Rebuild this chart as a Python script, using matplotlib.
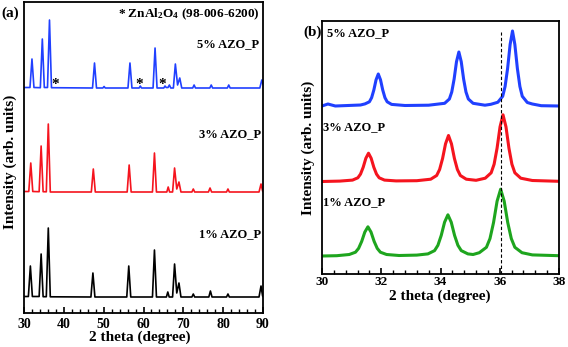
import matplotlib
matplotlib.use("Agg")
import matplotlib.pyplot as plt
from matplotlib.ticker import MultipleLocator

plt.rcParams["font.family"] = "Liberation Serif"
plt.rcParams["font.weight"] = "bold"
plt.rcParams["mathtext.default"] = "regular"

# ---- panel (a): full XRD patterns, intensity in arbitrary units (stacked) ----
x_1pct = [30.0, 31.1, 31.6, 32.1, 33.8, 34.3, 34.8, 35.6, 36.1, 36.6, 46.8, 47.3, 47.8,
          55.8, 56.3, 56.8, 62.25, 62.75, 63.25, 65.75, 66.1, 66.45, 67.3, 67.8, 68.35,
          68.9, 69.4, 72.15, 72.5, 72.85, 76.4, 76.8, 77.2, 80.85, 81.2, 81.55, 89.0, 89.5,
          89.9, 90.0]
y_1pct = [16.5, 16.5, 47, 16.5, 16.5, 59, 16.3, 16.3, 85, 16.2, 16, 40, 16,
          16, 47, 16, 16, 63, 16, 16, 21, 16, 16, 49, 20,
          30, 16, 16, 19, 16, 16, 22, 16, 16, 19, 16, 16, 27,
          17, 16.5]

x_3pct = [30.0, 31.2, 31.7, 32.2, 33.8, 34.3, 34.8, 35.6, 36.1, 36.6, 46.9, 47.4, 47.9,
          55.9, 56.4, 56.9, 62.25, 62.75, 63.25, 65.85, 66.2, 66.55, 67.3, 67.8, 68.35,
          68.9, 69.4, 72.15, 72.5, 72.85, 76.3, 76.7, 77.1, 80.85, 81.2, 81.55, 89.0, 89.5,
          89.9, 90.0]
y_3pct = [121.5, 121.5, 150, 121.5, 121.3, 167, 121.3, 121.2, 189, 121, 121, 144, 121,
          121, 148, 121, 121, 160, 121, 121, 126, 121, 121, 145, 124,
          131, 121, 121, 124, 121, 121, 125, 121, 121, 124, 121, 121, 129,
          122, 121.5]

x_5pct = [30.0, 31.5, 32.0, 32.5, 34.1, 34.6, 35.1, 35.9, 36.4, 36.9, 47.2, 47.7, 48.2,
          49.8, 50.1, 50.4, 56.1, 56.6, 57.1, 58.9, 59.2, 59.5, 62.4, 62.9, 63.4,
          65.1, 65.4, 65.7, 66.15, 66.5, 66.85, 67.5, 68.0, 68.55, 69.1, 69.6, 72.35, 72.7,
          73.05, 76.65, 77.0, 77.35, 81.05, 81.4, 81.75, 89.2, 89.7, 90.0]
y_5pct = [225.5, 225.5, 254, 225.5, 225.3, 274, 225.5, 225.5, 293, 225.3, 225, 250, 225,
          225, 226.5, 225, 225, 250, 225, 225, 227, 225, 225, 265, 225,
          225, 227, 225.5, 225.5, 228, 225, 225, 249, 228, 235, 225, 225, 228,
          225, 225, 228, 225, 225, 228, 225, 225, 233, 229]

star_pos = [37.8, 59.0, 64.7]   # ZnAl2O4 reflections
star_level = 225

# ---- panel (b): zoom on the three main ZnO reflections ----
xb_1pct = [30.0, 30.5, 30.92, 31.13, 31.235, 31.34, 31.445, 31.55, 31.655, 31.76, 31.865,
           31.97, 32.18, 32.6, 33.2, 33.575, 33.8, 33.9125, 34.025, 34.1375, 34.25,
           34.3625, 34.475, 34.5875, 34.7, 34.925, 35.1, 35.31, 35.55, 35.67, 35.79,
           35.91, 36.03, 36.15, 36.27, 36.39, 36.51, 36.75, 37.1, 38.0]
yb_1pct = [17.5, 17.8, 19.0, 21.3, 25.1, 32.1, 41.4, 46.7, 41.4, 32.1, 25.1,
           21.3, 19.0, 18.0, 18.4, 19.6, 22.9, 28.2, 38.1, 51.3, 58.7,
           51.3, 38.1, 28.2, 22.9, 19.6, 19.0, 20.8, 26.2, 34.9, 50.9,
           72.3, 84.3, 72.3, 50.9, 34.9, 26.2, 20.8, 18.6, 17.8]

xb_3pct = [30.0, 30.6, 31.03, 31.21, 31.3, 31.39, 31.48, 31.57, 31.66, 31.75, 31.84,
           31.93, 32.11, 32.5, 33.2, 33.67, 33.87, 33.97, 34.07, 34.17, 34.27,
           34.37, 34.47, 34.57, 34.67, 34.87, 35.2, 35.51, 35.71, 35.81, 35.91,
           36.01, 36.11, 36.21, 36.31, 36.41, 36.51, 36.71, 37.1, 38.0]
yb_3pct = [92.0, 92.4, 93.4, 95.7, 99.4, 106.2, 115.2, 120.3, 115.2, 106.2, 99.4,
           95.7, 93.4, 92.6, 92.8, 94.3, 98.0, 104.0, 115.0, 129.7, 138.0,
           129.7, 115.0, 104.0, 98.0, 94.3, 93.2, 95.3, 100.7, 109.3, 125.4,
           146.7, 158.7, 146.7, 125.4, 109.3, 100.7, 95.3, 93.0, 92.2]

xb_5pct = [30.0, 30.2, 30.45, 31.3, 31.45, 31.6, 31.675, 31.75, 31.825, 31.9, 31.975,
           32.05, 32.125, 32.2, 32.35, 32.8, 33.6, 34.14, 34.3, 34.38, 34.46, 34.54,
           34.62, 34.7, 34.78, 34.86, 34.94, 35.1, 35.5, 35.7, 35.935, 36.1, 36.18,
           36.265, 36.35, 36.43, 36.51, 36.595, 36.68, 36.76, 36.93, 37.1, 37.4, 38.0]
yb_5pct = [167.5, 169.5, 167.5, 168.5, 169.6, 171.7, 175.8, 183.5, 193.7, 199.5, 193.7,
           183.5, 175.8, 171.7, 169.1, 168.0, 168.3, 170.2, 174.5, 181.5, 194.5, 211.8,
           221.5, 211.8, 194.5, 181.5, 174.5, 170.2, 168.3, 169.2, 171.25, 177.25, 187.0,
           205.0, 229.0, 242.5, 229.0, 205.0, 187.0, 177.25, 171.0, 169.5, 167.8, 167.5]

ref_peak = 36.04   # ZnO (101) position of 1% sample

BLUE = "#2040ff"
RED = "#f5141e"
GREEN = "#1ea51e"

fig = plt.figure(figsize=(5.68, 3.47), dpi=100)

# panel (a)
ax_a = fig.add_axes([24 / 568, 1 - 313 / 347, 239 / 568, 311 / 347])
ax_a.plot(x_1pct, y_1pct, color="black", lw=1.2)
ax_a.plot(x_3pct, y_3pct, color=RED, lw=1.2)
ax_a.plot(x_5pct, y_5pct, color=BLUE, lw=1.2)
for xs in star_pos:
    ax_a.text(xs, star_level, "*", ha="center", va="baseline", fontsize=11)
ax_a.set_xlim(30, 90)
ax_a.set_ylim(0, 311)
ax_a.xaxis.set_major_locator(MultipleLocator(10))
ax_a.xaxis.set_minor_locator(MultipleLocator(2))
ax_a.set_yticks([])
ax_a.tick_params(axis="x", which="both", direction="in", top=False, labelsize=10, pad=3.5)
ax_a.tick_params(axis="x", which="major", length=4, width=1.2)
ax_a.tick_params(axis="x", which="minor", length=3, width=1.0)
for s in ax_a.spines.values():
    s.set_linewidth(1.3)

ax_a.text(0.985, 0.96, "* ZnAl$_2$O$_4$ (98-006-6200)", transform=ax_a.transAxes,
          ha="right", va="center", fontsize=9.5)
ax_a.text(0.985, 0.865, "5% AZO_P", transform=ax_a.transAxes, ha="right", va="center", fontsize=9)
ax_a.text(0.993, 0.575, "3% AZO_P", transform=ax_a.transAxes, ha="right", va="center", fontsize=9)
ax_a.text(0.993, 0.253, "1% AZO_P", transform=ax_a.transAxes, ha="right", va="center", fontsize=9)

# panel (b)
ax_b = fig.add_axes([322 / 568, 1 - 273.5 / 347, 237 / 568, 252.5 / 347])
ax_b.plot(xb_1pct, yb_1pct, color=GREEN, lw=2.2)
ax_b.plot(xb_3pct, yb_3pct, color=RED, lw=2.2)
ax_b.plot(xb_5pct, yb_5pct, color=BLUE, lw=2.2)
ax_b.axvline(ref_peak, ymin=0, ymax=0.955, color="black", lw=0.8, ls=(0, (3, 2)))
ax_b.set_xlim(30, 38)
ax_b.set_ylim(0, 252.5)
ax_b.xaxis.set_major_locator(MultipleLocator(2))
ax_b.xaxis.set_minor_locator(MultipleLocator(0.4))
ax_b.set_yticks([])
ax_b.tick_params(axis="x", which="both", direction="in", top=False, labelsize=9.5, pad=1.5)
ax_b.tick_params(axis="x", which="major", length=4, width=1.2)
ax_b.tick_params(axis="x", which="minor", length=3, width=1.0)
for s in ax_b.spines.values():
    s.set_linewidth(1.3)

ax_b.text(0.02, 0.952, "5% AZO_P", transform=ax_b.transAxes, ha="left", va="center", fontsize=9)
ax_b.text(0.004, 0.58, "3% AZO_P", transform=ax_b.transAxes, ha="left", va="center", fontsize=9)
ax_b.text(0.004, 0.283, "1% AZO_P", transform=ax_b.transAxes, ha="left", va="center", fontsize=9)

# labels
fig.text(1 / 568, 1 - 13 / 347, "(a)", ha="left", va="center", fontsize=11)
fig.text(303 / 568, 1 - 32 / 347, "(b)", ha="left", va="center", fontsize=11)
fig.text(10 / 568, 1 - 162 / 347, "Intensity (arb. units)", rotation=90,
         ha="center", va="center", fontsize=11)
fig.text(308 / 568, 1 - 148 / 347, "Intensity (arb. units)", rotation=90,
         ha="center", va="center", fontsize=11)
fig.text(140 / 568, 1 - 337 / 347, "2 theta (degree)", ha="center", va="center", fontsize=11)
fig.text(440 / 568, 1 - 296 / 347, "2 theta (degree)", ha="center", va="center", fontsize=11)

fig.savefig("out.png", dpi=100)
